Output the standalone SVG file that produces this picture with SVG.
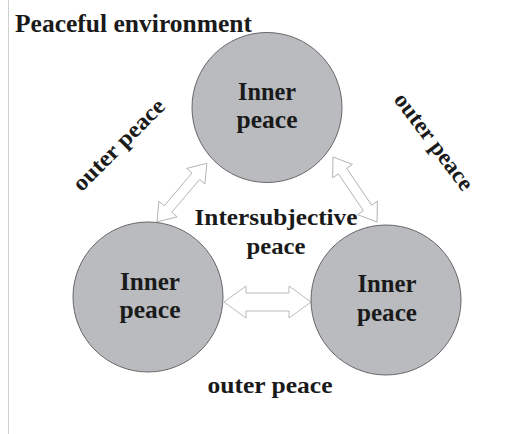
<svg xmlns="http://www.w3.org/2000/svg" width="512" height="434" viewBox="0 0 512 434">
<style>
.node circle{fill:#b9bbbf;stroke:#666;stroke-width:1}
text{font-family:"Liberation Serif","Times New Roman",serif;font-weight:bold;fill:#1a1a1a}
.in{font-size:26px;text-anchor:middle}
.lbl{font-size:23px;text-anchor:middle}
.arr{fill:#fff;stroke:#a8a8a8;stroke-width:0.8;stroke-linejoin:miter}
</style>
<rect x="0" y="0" width="512" height="434" fill="#fff"/>
<line x1="8.5" y1="0" x2="8.5" y2="434" stroke="#cfcfcf" stroke-width="1"/>
<text x="15" y="32" font-size="25" textLength="237" lengthAdjust="spacingAndGlyphs">Peaceful environment</text>
<g id="connectors">
<path class="arr" transform="translate(224,302)" d="M0,0 L22,-16 L22,-9 L65,-9 L65,-16 L87,0 L65,16 L65,9 L22,9 L22,16 Z"/>
<path class="arr" transform="translate(157,222) rotate(-49.7)" d="M0,0 L17,-12 L17,-5 L60,-5 L60,-12 L77,0 L60,12 L60,5 L17,5 L17,12 Z"/>
<path class="arr" transform="translate(333,157) rotate(55.9)" d="M0,0 L17,-12 L17,-5 L61.5,-5 L61.5,-12 L78.5,0 L61.5,12 L61.5,5 L17,5 L17,12 Z"/>
</g>
<g id="node-top" class="node">
<circle cx="267" cy="107.5" r="75"/>
<text class="in" x="267" y="100" textLength="58" lengthAdjust="spacingAndGlyphs">Inner</text>
<text class="in" x="267" y="128" textLength="61" lengthAdjust="spacingAndGlyphs">peace</text>
</g>
<g id="node-left" class="node">
<circle cx="148" cy="297" r="75"/>
<text class="in" x="150" y="290" textLength="60" lengthAdjust="spacingAndGlyphs">Inner</text>
<text class="in" x="150" y="318" textLength="61" lengthAdjust="spacingAndGlyphs">peace</text>
</g>
<g id="node-right" class="node">
<circle cx="386" cy="300" r="75"/>
<text class="in" x="387" y="292" textLength="59" lengthAdjust="spacingAndGlyphs">Inner</text>
<text class="in" x="387" y="321" textLength="60" lengthAdjust="spacingAndGlyphs">peace</text>
</g>
<text class="lbl" x="276" y="225" textLength="163" lengthAdjust="spacingAndGlyphs">Intersubjective</text>
<text class="lbl" x="276" y="254" textLength="59" lengthAdjust="spacingAndGlyphs">peace</text>
<text class="lbl" x="270" y="393" textLength="125" lengthAdjust="spacingAndGlyphs">outer peace</text>
<text class="lbl" transform="translate(124,150) rotate(-45)" x="0" y="0" textLength="120" lengthAdjust="spacingAndGlyphs">outer peace</text>
<text class="lbl" transform="translate(428,146) rotate(53)" x="0" y="0" textLength="116" lengthAdjust="spacingAndGlyphs">outer peace</text>
</svg>
